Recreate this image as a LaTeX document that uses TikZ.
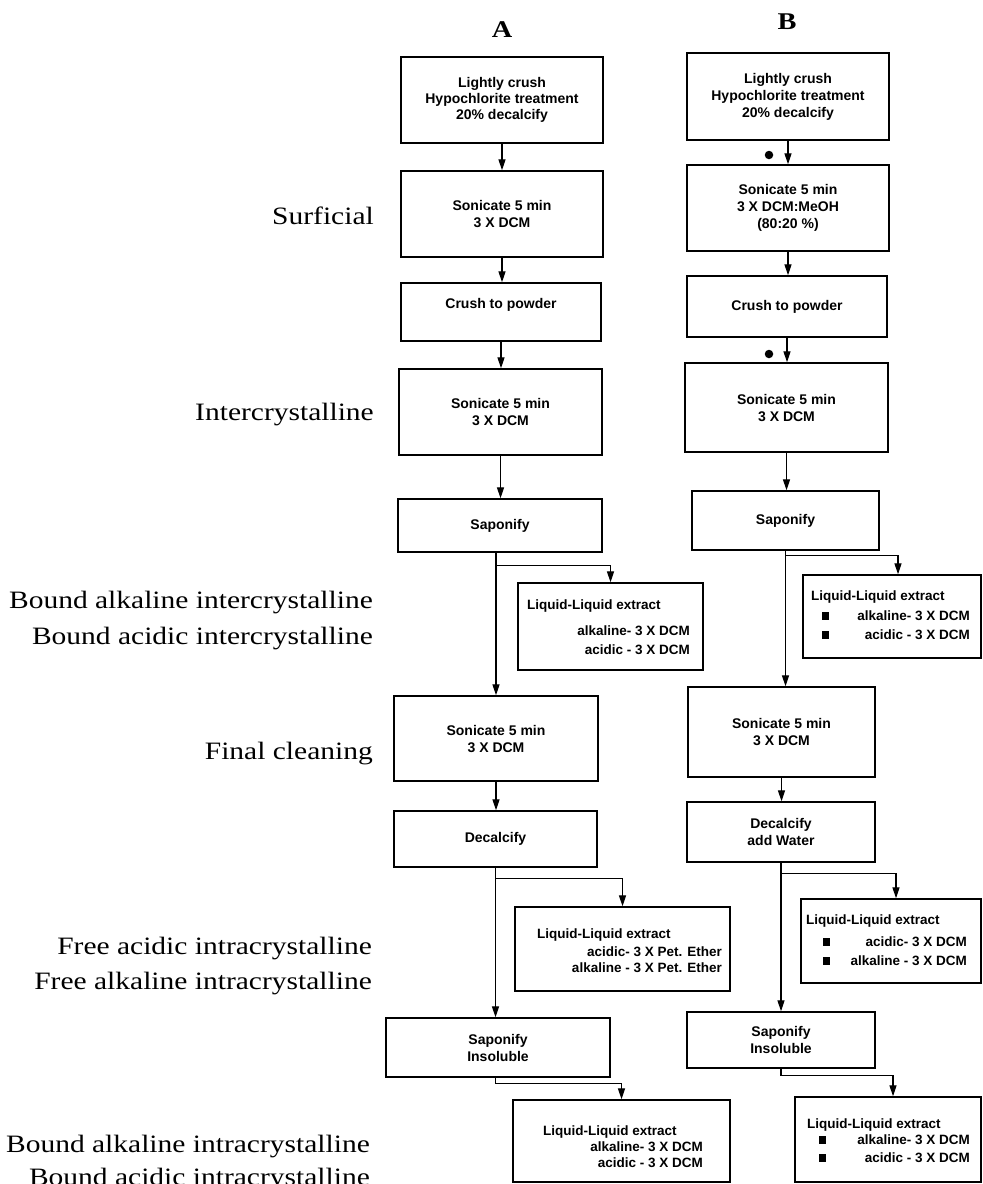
\documentclass[tikz,border=0pt]{standalone}
\usepackage{fontspec}
\setmainfont{Liberation Serif}
\newfontfamily\labfont{Liberation Serif}[FakeStretch=1.18]
\newfontfamily\bxfont{Liberation Sans}
\usetikzlibrary{arrows.meta,calc}
\begin{document}
\begin{tikzpicture}[x=1pt,y=-1pt,
  bx/.style={draw, line width=1.4pt, inner sep=0pt, align=center,
    font=\bxfont\bfseries\fontsize{14}{17}\selectfont},
  llbox/.style={draw, line width=1.4pt, inner sep=0pt},
  lltxt/.style={inner sep=0pt, font=\bxfont\bfseries\fontsize{13.5}{16}\selectfont},
  lab/.style={inner sep=0pt, anchor=base east, font=\labfont\fontsize{25}{30}\selectfont},
  ttl/.style={inner sep=0pt, font=\labfont\bfseries\fontsize{24}{28}\selectfont},
  arr/.style={line width=1.2pt, -{Triangle[length=11pt,width=7pt]}},
  dotn/.style={circle, fill, inner sep=0pt, minimum size=8.5pt},
  sq/.style={fill, inner sep=0pt, minimum width=7pt, minimum height=8.5pt}
]
\useasboundingbox (0,0) rectangle (983,1184);

% titles
\node[ttl] (tA) at (502,30) {A};
\node[ttl] (tB) at (787,22) {B};

% left labels
\node[lab] (l1) at (374,224) {Surficial};
\node[lab] (l2) at (374,420) {Intercrystalline};
\node[lab] (l3) at (373,608) {Bound alkaline intercrystalline};
\node[lab] (l4) at (373,644) {Bound acidic intercrystalline};
\node[lab] (l5) at (373,759) {Final cleaning};
\node[lab] (l6) at (372,954) {Free acidic intracrystalline};
\node[lab] (l7) at (372,989) {Free alkaline intracrystalline};
\node[lab] (l8) at (370,1152) {Bound alkaline intracrystalline};
\node[lab] (l9) at (370,1185) {Bound acidic intracrystalline};

% ---------- column A ----------
\node[bx, minimum width=202pt, minimum height=86pt, font=\bxfont\bfseries\fontsize{14}{16}\selectfont] (A1) at (502,100)
  {Lightly crush\\Hypochlorite treatment\\20\% decalcify};
\node[bx, minimum width=202pt, minimum height=86pt] (A2) at (502,214) {Sonicate 5 min\\3 X DCM};
\node[bx, minimum width=200pt, minimum height=58pt, text height=10pt, text depth=18pt] (A3) at (501,312) {Crush to powder};
\node[bx, minimum width=203pt, minimum height=86pt] (A4) at (500.5,412) {Sonicate 5 min\\3 X DCM};
\node[bx, minimum width=204pt, minimum height=53pt] (A5) at (500,525.5) {Saponify};
\node[llbox, minimum width=185pt, minimum height=87pt] (A6) at (610.5,626.5) {};
\node[lltxt, anchor=west] (A6a) at (527,606) {Liquid-Liquid extract};
\node[lltxt, anchor=east] (A6b) at (690,631) {alkaline- 3 X DCM};
\node[lltxt, anchor=east] (A6c) at (690,650) {acidic - 3 X DCM};
\node[bx, minimum width=204pt, minimum height=85pt] (A7) at (496,738.5) {Sonicate 5 min\\3 X DCM};
\node[bx, minimum width=203pt, minimum height=56pt] (A8) at (495.5,839) {Decalcify};
\node[llbox, minimum width=215pt, minimum height=84pt] (A9) at (622.5,949) {};
\node[lltxt, anchor=west] (A9a) at (537,935) {Liquid-Liquid extract};
\node[lltxt, anchor=east] (A9b) at (722,952) {acidic- 3 X Pet. Ether};
\node[lltxt, anchor=east] (A9c) at (722,968) {alkaline - 3 X Pet. Ether};
\node[bx, minimum width=224pt, minimum height=59pt] (A10) at (498,1047.5) {Saponify\\Insoluble};
\node[llbox, minimum width=217pt, minimum height=82pt] (A11) at (621.5,1141) {};
\node[lltxt, anchor=west] (A11a) at (543,1132) {Liquid-Liquid extract};
\node[lltxt, anchor=east] (A11b) at (703,1147) {alkaline- 3 X DCM};
\node[lltxt, anchor=east] (A11c) at (703,1163) {acidic - 3 X DCM};

% connectors A
\draw[arr] (A1.south) -- (A1.south |- A2.north);
\draw[arr] (A2.south) -- (A2.south |- A3.north);
\draw[arr] (A3.south) -- (A3.south |- A4.north);
\draw[arr] (A4.south) -- (A4.south |- A5.north);
\draw[arr] (A5.south -| A7.north) -- (A7.north);
\draw[arr] ($(A5.south -| A7.north)+(0,13)$) -| (A6.north);
\draw[arr] (A7.south) -- (A7.south |- A8.north);
\draw[arr] (A8.south) -- (A8.south |- A10.north);
\draw[arr] ($(A8.south)+(0,11)$) -| (A9.north);
\draw[arr] (A10.south -| A8.south) -- ++(0,6) -| (A11.north);

% ---------- column B ----------
\node[bx, minimum width=202pt, minimum height=87pt] (B1) at (788,96.5)
  {Lightly crush\\Hypochlorite treatment\\20\% decalcify};
\node[bx, minimum width=202pt, minimum height=86pt] (B2) at (788,208) {Sonicate 5 min\\3 X DCM:MeOH\\(80:20 \%)};
\node[bx, minimum width=200pt, minimum height=61pt] (B3) at (787,306.5) {Crush to powder};
\node[bx, minimum width=203pt, minimum height=89pt] (B4) at (786.5,407.5) {Sonicate 5 min\\3 X DCM};
\node[bx, minimum width=187pt, minimum height=59pt] (B5) at (785.5,520.5) {Saponify};
\node[llbox, minimum width=178pt, minimum height=83pt] (B6) at (892,616.5) {};
\node[lltxt, anchor=west] (B6a) at (811,597) {Liquid-Liquid extract};
\node[sq] (B6s1) at (825,616) {};
\node[sq] (B6s2) at (825,635) {};
\node[lltxt, anchor=east] (B6b) at (970,616) {alkaline- 3 X DCM};
\node[lltxt, anchor=east] (B6c) at (970,635) {acidic - 3 X DCM};
\node[bx, minimum width=187pt, minimum height=90pt] (B7) at (781.5,732) {Sonicate 5 min\\3 X DCM};
\node[bx, minimum width=188pt, minimum height=60pt] (B8) at (781,832) {Decalcify\\add Water};
\node[llbox, minimum width=180pt, minimum height=84pt] (B9) at (891,941) {};
\node[lltxt, anchor=west] (B9a) at (806,921) {Liquid-Liquid extract};
\node[sq] (B9s1) at (826,942) {};
\node[sq] (B9s2) at (826,961) {};
\node[lltxt, anchor=east] (B9b) at (967,942) {acidic- 3 X DCM};
\node[lltxt, anchor=east] (B9c) at (967,961) {alkaline - 3 X DCM};
\node[bx, minimum width=188pt, minimum height=56pt] (B10) at (781,1040) {Saponify\\Insoluble};
\node[llbox, minimum width=186pt, minimum height=85pt] (B11) at (888,1139.5) {};
\node[lltxt, anchor=west] (B11a) at (807,1125) {Liquid-Liquid extract};
\node[sq] (B11s1) at (822,1140) {};
\node[sq] (B11s2) at (822,1158) {};
\node[lltxt, anchor=east] (B11b) at (970,1140) {alkaline- 3 X DCM};
\node[lltxt, anchor=east] (B11c) at (970,1158) {acidic - 3 X DCM};

% dots
\node[dotn] (d1) at (769,155) {};
\node[dotn] (d2) at (769,354) {};

% connectors B
\draw[arr] (B1.south) -- (B1.south |- B2.north);
\draw[arr] (B2.south) -- (B2.south |- B3.north);
\draw[arr] (B3.south) -- (B3.south |- B4.north);
\draw[arr] (B4.south) -- (B4.south |- B5.north);
\draw[arr] (B5.south) -- (B5.south |- B7.north);
\draw[arr] ($(B5.south)+(0,5)$) -| ($(B6.north)+(6,0)$);
\draw[arr] (B7.south) -- (B7.south |- B8.north);
\draw[arr] (B8.south) -- (B8.south |- B10.north);
\draw[arr] ($(B8.south)+(0,11)$) -| ($(B9.north)+(5,0)$);
\draw[arr] (B10.south) -- ++(0,7) -| ($(B11.north)+(5,0)$);
\end{tikzpicture}
\end{document}
